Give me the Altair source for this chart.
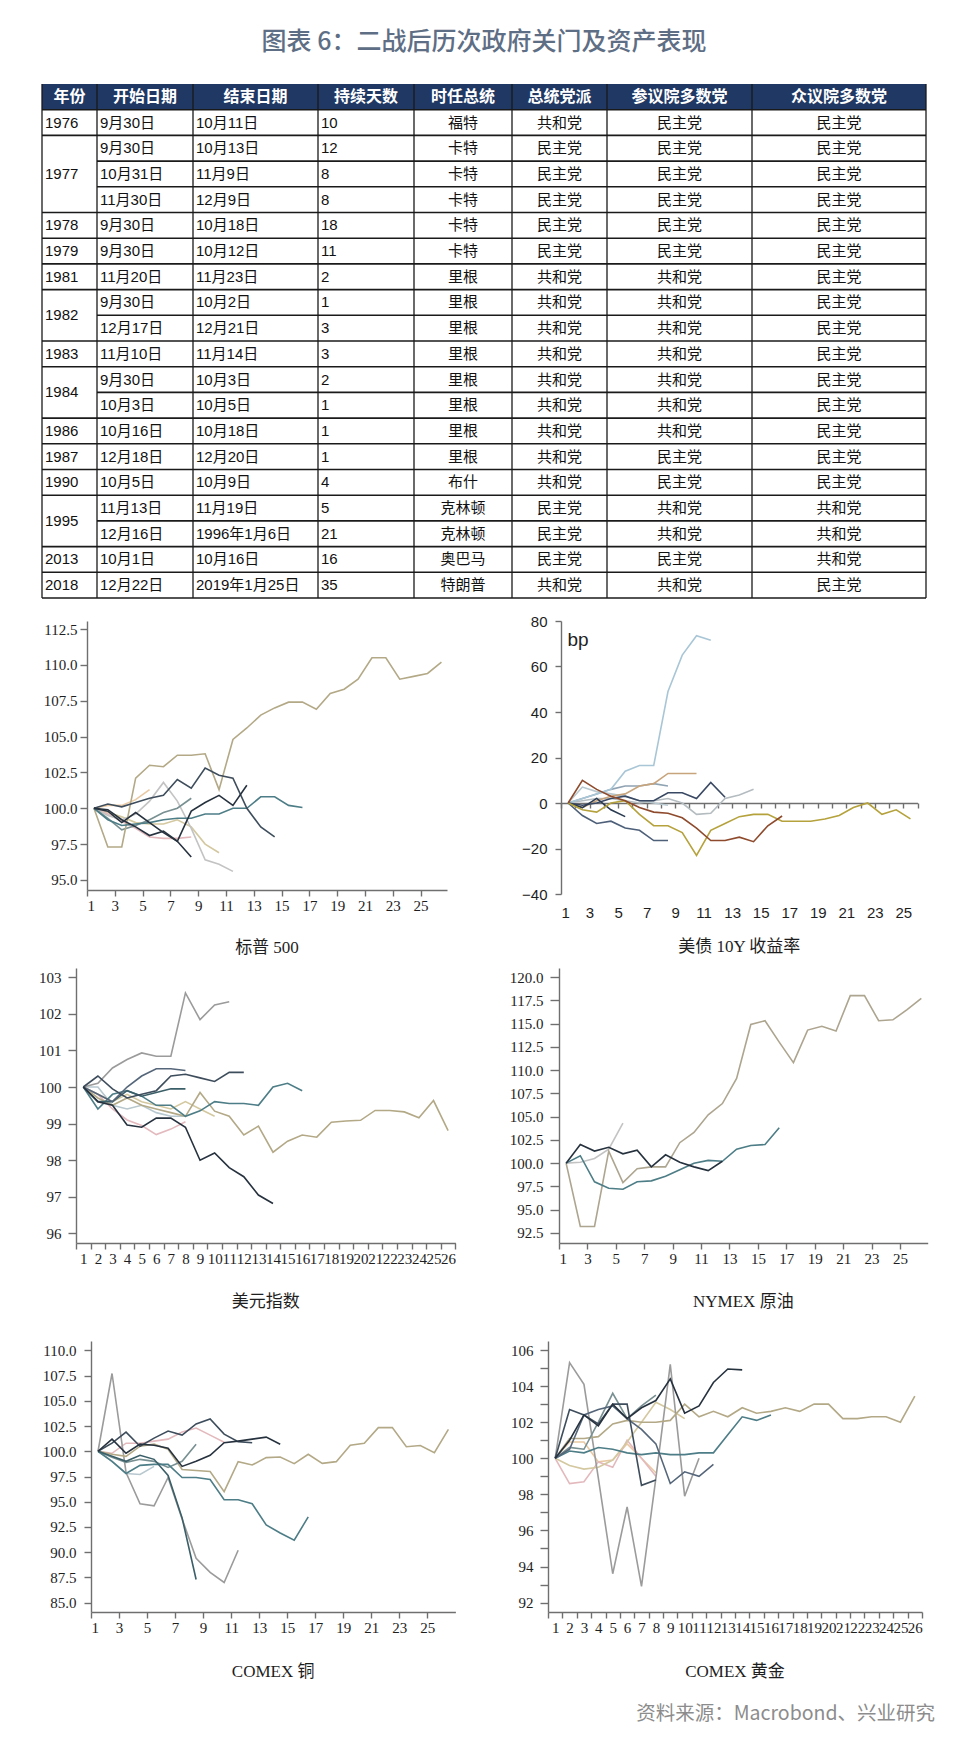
import altair as alt
import pandas as pd

# ---------------- table data ----------------
header = ["年份", "开始日期", "结束日期", "持续天数", "时任总统", "总统党派", "参议院多数党", "众议院多数党"]
years = ["1976", "1977", "1977", "1977", "1978", "1979", "1981", "1982", "1982", "1983",
         "1984", "1984", "1986", "1987", "1990", "1995", "1995", "2013", "2018"]
start_dates = ["9月30日", "9月30日", "10月31日", "11月30日", "9月30日", "9月30日", "11月20日", "9月30日",
               "12月17日", "11月10日", "9月30日", "10月3日", "10月16日", "12月18日", "10月5日", "11月13日",
               "12月16日", "10月1日", "12月22日"]
end_dates = ["10月11日", "10月13日", "11月9日", "12月9日", "10月18日", "10月12日", "11月23日", "10月2日",
             "12月21日", "11月14日", "10月3日", "10月5日", "10月18日", "12月20日", "10月9日", "11月19日",
             "1996年1月6日", "10月16日", "2019年1月25日"]
durations = ["10", "12", "8", "8", "18", "11", "2", "1", "3", "3", "2", "1", "1", "1", "4", "5", "21", "16", "35"]
presidents = ["福特", "卡特", "卡特", "卡特", "卡特", "卡特", "里根", "里根", "里根", "里根", "里根", "里根",
              "里根", "里根", "布什", "克林顿", "克林顿", "奥巴马", "特朗普"]
pres_party = ["共和党", "民主党", "民主党", "民主党", "民主党", "民主党", "共和党", "共和党", "共和党", "共和党",
              "共和党", "共和党", "共和党", "共和党", "共和党", "民主党", "民主党", "民主党", "共和党"]
senate = ["民主党"] * 6 + ["共和党"] * 7 + ["民主党", "民主党", "共和党", "共和党", "民主党", "共和党"]
house = ["民主党"] * 15 + ["共和党", "共和党", "共和党", "民主党"]

# ---------------- series data (index = 100 / bp change, day 1..N) ----------------
spx_1 = [100, 97.3, 97.3, 102.1, 103.0, 102.9, 103.7, 103.7, 103.8, 101.3, 104.8, 105.6, 106.5, 107.0, 107.4,
         107.4, 106.9, 108.0, 108.3, 109.0, 110.5, 110.5, 109.0, 109.2, 109.4, 110.2]
spx_2 = [100, 100.3, 100.1, 100.4, 100.7, 100.9, 102.0, 101.4, 102.8, 102.3, 102.1, 100.0, 98.7, 98.0]
spx_3 = [100, 99.9, 99.2, 98.7, 98.1, 98.4, 97.7, 99.8, 100.4, 100.9, 100.2, 101.6]
spx_4 = [100, 99.2, 98.8, 98.9, 99.0, 99.2, 99.3, 99.3, 99.6, 99.6, 100.0, 100.0, 100.8, 100.8, 100.2, 100.05]
spx_5 = [100, 99.8, 99.0, 99.7, 99.0, 98.3, 97.7, 96.6]
spx_6 = [100, 99.5, 99.2, 99.6, 100.5, 101.8, 100.5, 98.6, 96.4, 96.1, 95.6]
spx_7 = [100, 99.7, 99.4, 99.0, 98.9, 98.9, 99.2, 98.7, 97.5, 96.9]
spx_8 = [100, 100.2, 100.2, 100.6, 101.3]
spx_9 = [100, 99.3, 98.5, 98.8, 99.2, 99.7, 100.0, 100.7]
spx_10 = [100, 99.6, 99.1, 98.6, 98.0, 97.9, 97.9, 98.0]

ust_1 = [0, 2, 4, 6, 14, 16.5, 16.5, 49, 65, 73.5, 71.5]
ust_2 = [0, -2, 1, 3, 4, 7.5, 8.5, 13, 13, 13]
ust_3 = [0, -1, 0, 2, 3, 1, 1, 4.5, 4.5, 2, 9, 2.5]
ust_4 = [0, 1, 2, 2, 1, 0, 1, 2, 0, -5, -4.5, 2, 3.5, 6]
ust_5 = [0, -5.5, -9, -8, -11, -12, -16.5, -16.5]
ust_6 = [0, 10, 6, 3, 1, -2, -4, -4.5, -6.5, -11, -16.5, -16.5, -15, -17, -10, -5.7]
ust_7 = [0, -3, -4, 0, 1, -5, -10, -10, -13, -23, -12, -9, -6, -5, -5, -8, -8, -8, -7, -5.5, -2, 0, -5, -3, -7]
ust_8 = [0, 2, 4, 6, 7.5, 7.5, 8.5, 7.5]
ust_9 = [0, -2, 2, -3, -6]
ust_10 = [0, 7, 5, 4, 3, 1, 0, -1]

dxy_1 = [100, 100.1, 100.52, 100.75, 100.93, 100.84, 100.84, 102.57, 101.84, 102.24, 102.33]
dxy_2 = [100, 99.7, 99.5, 99.7, 99.5, 99.4, 99.3, 99.2, 99.85, 99.34, 99.2, 98.69, 98.93, 98.22, 98.52, 98.69,
         98.63, 99.04, 99.07, 99.09, 99.36, 99.36, 99.32, 99.16, 99.63, 98.81]
dxy_3 = [100, 99.6, 99.5, 98.96, 98.9, 99.15, 99.15, 98.9, 98.0, 98.2, 97.8, 97.55, 97.05, 96.82]
dxy_4 = [100, 100.3, 99.95, 99.7, 99.8, 99.9, 100.3, 100.35, 100.25, 100.15, 100.4, 100.4]
dxy_5 = [100, 99.8, 99.6, 100.0, 100.3, 100.5, 100.5, 100.45]
dxy_6 = [100, 99.4, 99.8, 99.9, 99.75, 99.5, 99.5, 99.2, 99.35, 99.6, 99.55, 99.55, 99.5, 100.0, 100.1, 99.9]
dxy_7 = [100, 99.6, 99.6, 99.9, 99.75, 99.85, 99.95, 99.95]
dxy_8 = [100, 99.8, 99.4, 99.1, 98.95, 98.7, 98.85, 99.05]
dxy_9 = [100, 99.8, 99.6, 99.8, 99.6, 99.5, 99.4, 99.6, 99.4, 99.2]
dxy_10 = [100, 100.0, 99.5, 99.4, 99.5, 99.3, 99.2, 99.2]

oil_1 = [100, 93.2, 93.2, 101.3, 97.9, 99.4, 99.6, 99.6, 102.2, 103.3, 105.2, 106.4, 109.1, 114.9, 115.3, 113.0,
         110.8, 114.3, 114.7, 114.2, 118.0, 118.0, 115.3, 115.4, 116.5, 117.7]
oil_2 = [100, 102.0, 101.3, 101.7, 101.0, 101.4, 99.6, 100.9, 100.1, 99.6, 99.2, 100.2]
oil_3 = [100, 100.8, 98.0, 97.3, 97.2, 98.0, 98.1, 98.6, 99.3, 100.0, 100.3, 100.2, 101.5, 101.9, 102.0, 103.8]
oil_4 = [100, 100.1, 100.5, 101.5, 104.3]

cu_1 = [100, 99.7, 99.5, 100.5, 100.7, 100.2, 98.2, 98.1, 98.0, 96.0, 98.97, 98.64, 99.37, 99.43, 98.77, 99.7,
        98.8, 98.97, 100.59, 100.8, 102.34, 102.34, 100.45, 100.57, 99.86, 102.17]
cu_2 = [100, 107.7, 97.9, 94.8, 94.6, 97.4, 93.3, 89.4, 88.0, 87.0, 90.2]
cu_3 = [100, 99.5, 99.0, 99.6, 99.2, 97.6, 93.4, 87.3]
cu_4 = [100, 99.0, 97.8, 98.6, 98.7, 98.7, 97.4, 97.4, 97.2, 95.2, 95.2, 94.8, 92.7, 91.9, 91.2, 93.5]
cu_5 = [100, 101.2, 99.8, 100.7, 100.6, 100.3, 98.5, 99.0, 99.6, 100.85, 101.0, 101.2, 101.4, 100.7]
cu_6 = [100, 100.8, 101.9, 100.5, 101.3, 102.0, 101.6, 102.7, 103.2, 101.7, 100.95, 100.85]
cu_7 = [100, 99.8, 100.8, 100.8, 101.0, 101.2, 101.9, 102.3, 101.6, 100.9]
cu_8 = [100, 99.4, 98.9, 99.2, 99.0, 98.4, 99.0, 100.7]
cu_9 = [100, 99.0, 97.8, 97.7, 98.5]

au_1 = [100, 105.3, 104.1, 98.9, 93.6, 97.3, 92.9, 98.9, 105.2, 97.9, 100.0]
au_2 = [100, 101.1, 101.1, 101.2, 101.9, 102.1, 102.0, 102.0, 102.1, 103.0, 102.3, 102.6, 102.3, 102.8, 102.5,
        102.6, 102.8, 102.6, 103.0, 103.0, 102.2, 102.2, 102.3, 102.3, 102.0, 103.45]
au_3 = [100, 101.0, 102.4, 101.8, 103.0, 102.2, 102.8, 103.2, 104.4, 102.5, 102.9, 104.2, 104.95, 104.9]
au_4 = [100, 102.7, 102.4, 101.9, 103.0, 103.0, 98.5, 98.8]
au_5 = [100, 100.5, 102.4, 102.7, 102.9, 102.2, 101.6, 100.8, 98.6, 99.25, 99.0, 99.66]
au_6 = [100, 100.4, 100.3, 100.6, 100.5, 100.3, 100.2, 100.3, 100.2, 100.2, 100.3, 100.3, 101.3, 102.3, 102.1, 102.4]
au_7 = [100, 100.6, 100.5, 102.0, 103.6, 102.2, 102.9, 103.5]
au_8 = [100, 98.6, 98.7, 99.8, 99.5, 101.0, 100.0, 99.0]
au_9 = [100, 99.6, 99.4, 99.5, 99.9, 100.9, 102.0, 103.1, 102.7, 102.2]
au_10 = [100, 100.9, 100.9, 99.8, 99.9, 100.8, 100.0, 99.2]

# ---------------- styles ----------------
NAVY_D = "#27323f"
SLATE = "#3e4d5c"
SLATE2 = "#55667a"
TEAL = "#4d7d86"
TEAL_D = "#3b5f68"
KHAKI = "#b3a987"
KHAKI_L = "#d3c89f"
GRAY = "#9b9b9b"
GRAY_L = "#c3c3c3"
PINK = "#e3b9bd"
PEACH = "#e9c9a3"
BLUEGRAY_L = "#b7c8cf"
GRAYTEAL = "#789092"

AX = "#6f6f6f"
FONT_SERIF = "Liberation Serif, Noto Sans CJK SC"
FONT_CJK = "Noto Sans CJK SC"

col_widths = [55, 96, 125, 96, 98, 95, 145, 174]
TABLE_H = 514


def build_df(series):
    rows = []
    for name, vals, color in series:
        for i, v in enumerate(vals):
            rows.append({"series": name, "day": i + 1, "value": v, "color": color})
    return pd.DataFrame(rows)


# ---------------- table ----------------
edges = [0]
for w in col_widths:
    edges.append(edges[-1] + w)
W_T = edges[-1]
n = len(years)
NROW = n + 1

xs = alt.Scale(domain=[0, W_T], nice=False, zero=False)
ys = alt.Scale(domain=[0, NROW], nice=False, zero=False, reverse=True)

hdr_rect = pd.DataFrame({"x0": [0], "x1": [W_T], "y0": [0], "y1": [1]})
hdr_text = pd.DataFrame({"x": [(edges[j] + edges[j + 1]) / 2 for j in range(8)], "y": [0.5] * 8, "t": header})

cols_data = [start_dates, end_dates, durations, presidents, pres_party, senate, house]
left_rows, center_rows = [], []
for r in range(n):
    yv = r + 1.5
    for j, arr in enumerate(cols_data, start=1):
        if j <= 3:
            left_rows.append({"x": edges[j], "y": yv, "t": arr[r]})
        else:
            center_rows.append({"x": (edges[j] + edges[j + 1]) / 2, "y": yv, "t": arr[r]})
groups = []
r = 0
while r < n:
    s = r
    while r + 1 < n and years[r + 1] == years[s]:
        r += 1
    groups.append((s, r))
    r += 1
for s, e in groups:
    left_rows.append({"x": 0, "y": (s + e) / 2 + 1.5, "t": years[s]})

hrules = []
for b in range(1, NROW + 1):
    x0 = 0
    if 2 <= b <= n and years[b - 1] == years[b - 2]:
        x0 = edges[1]
    hrules.append({"y": b, "x0": x0, "x1": W_T})
hrules = pd.DataFrame(hrules)
vrules = pd.DataFrame({"x": edges, "y0": [0] * len(edges), "y1": [NROW] * len(edges)})

t_rect = alt.Chart(hdr_rect).mark_rect(color="#1f3864").encode(
    x=alt.X("x0:Q", scale=xs, axis=None), x2="x1",
    y=alt.Y("y0:Q", scale=ys, axis=None), y2="y1")
t_h = alt.Chart(hrules).mark_rule(color="#1a1a1a", strokeWidth=1.6).encode(
    x=alt.X("x0:Q", scale=xs, axis=None), x2="x1", y=alt.Y("y:Q", scale=ys, axis=None))
t_v = alt.Chart(vrules).mark_rule(color="#1a1a1a", strokeWidth=1.3).encode(
    x=alt.X("x:Q", scale=xs, axis=None), y=alt.Y("y0:Q", scale=ys, axis=None), y2="y1")
t_ht = alt.Chart(hdr_text).mark_text(color="white", font=FONT_CJK, fontSize=16, fontWeight="bold",
                                     baseline="middle", align="center").encode(
    x=alt.X("x:Q", scale=xs, axis=None), y=alt.Y("y:Q", scale=ys, axis=None), text="t:N")
t_l = alt.Chart(pd.DataFrame(left_rows)).mark_text(color="#111", font="Liberation Sans, " + FONT_CJK, fontSize=15,
                                                   baseline="middle", align="left", dx=3).encode(
    x=alt.X("x:Q", scale=xs, axis=None), y=alt.Y("y:Q", scale=ys, axis=None), text="t:N")
t_c = alt.Chart(pd.DataFrame(center_rows)).mark_text(color="#111", font=FONT_CJK, fontSize=15,
                                                     baseline="middle", align="center").encode(
    x=alt.X("x:Q", scale=xs, axis=None), y=alt.Y("y:Q", scale=ys, axis=None), text="t:N")

table = alt.layer(t_rect, t_h, t_v, t_ht, t_l, t_c).properties(
    width=W_T, height=TABLE_H,
    title=alt.TitleParams("图表 6：二战后历次政府关门及资产表现", font=FONT_CJK, fontSize=25, fontWeight=500,
                          color="#5e6e84", anchor="middle", offset=28))


# ---------------- line panels ----------------
def panel(series, xmode, ydom, yvals, yfmt, w, h, title, toff, xdom=None, xvals=None,
          ytick=7, ypad=3, xtick=6, xpad=2, font="Liberation Serif", ylabel_expr=None,
          xlabel_expr=None, xoffset=0, ytitle=None):
    df = build_df(series)
    common = dict(grid=False, domainColor=AX, domainWidth=1.4, tickColor=AX, tickWidth=1.4,
                  labelFont=font, labelFontSize=15, labelColor="#1e1e1e")
    yax = dict(common, values=yvals, format=yfmt, tickSize=ytick, labelPadding=ypad)
    if ylabel_expr:
        yax["labelExpr"] = ylabel_expr
    if ytitle:
        yax.update(title=ytitle, titleAngle=0, titleX=6, titleY=18, titleAlign="left", titleBaseline="middle",
                   titleFont=font, titleFontSize=19, titleFontWeight="normal", titleColor="#222")
    else:
        yax["title"] = None
    y = alt.Y("value:Q", scale=alt.Scale(domain=ydom, nice=False, zero=False), axis=alt.Axis(**yax))
    base = alt.Chart(df)
    if xmode == "band":
        x = alt.X("day:O", scale=alt.Scale(type="band", domain=list(range(1, 27)), paddingInner=0, paddingOuter=0),
                  bandPosition=0.5,
                  axis=alt.Axis(**common, tickBand="extent", labelAngle=0, labelOverlap=False,
                                tickSize=xtick, labelPadding=xpad, title=None))
    else:
        xax = dict(common, values=xvals, format="d", tickSize=xtick, labelPadding=xpad, title=None,
                   labelOverlap=False)
        if xoffset:
            xax["offset"] = xoffset
        if xlabel_expr:
            xax["labelExpr"] = xlabel_expr
        base = base.transform_calculate(pos="datum.day + 0.5")
        x = alt.X("pos:Q", scale=alt.Scale(domain=xdom, nice=False, zero=False), axis=alt.Axis(**xax))
    return base.mark_line(strokeWidth=1.6, clip=True).encode(
        x=x, y=y, color=alt.Color("color:N", scale=None), detail="series:N"
    ).properties(width=w, height=h,
                 title=alt.TitleParams(title, orient="bottom", anchor="middle", offset=toff, font=FONT_SERIF,
                                       fontSize=17, fontWeight="normal", color="#1e1e1e"))


c1 = panel([("s7", spx_7, KHAKI_L), ("s8", spx_8, PEACH), ("s10", spx_10, PINK), ("s6", spx_6, GRAY_L),
            ("s9", spx_9, GRAYTEAL), ("s1", spx_1, KHAKI), ("s4", spx_4, TEAL), ("s2", spx_2, SLATE),
            ("s5", spx_5, NAVY_D), ("s3", spx_3, NAVY_D)],
           "q", [94.3, 113.06], [95, 97.5, 100, 102.5, 105, 107.5, 110, 112.5], ".1f", 360, 269, "标普 500", 27,
           xdom=[1, 26.9], xvals=list(range(1, 26, 2)), ytick=7, ypad=3)

c2 = panel([("u10", ust_10, BLUEGRAY_L), ("u8", ust_8, "#8fa3b3"), ("u4", ust_4, "#b4bcc0"),
            ("u2", ust_2, "#c7a47c"), ("u1", ust_1, "#a9c6d6"), ("u3", ust_3, "#3a4963"),
            ("u5", ust_5, "#4e6079"), ("u9", ust_9, "#2a3a50"), ("u7", ust_7, "#b5a23c"),
            ("u6", ust_6, "#8e4a2c")],
           "q", [-40, 80], [-40, -20, 0, 20, 40, 60, 80], "d", 356.6, 273, "美债 10Y 收益率", 19,
           xdom=[1, 26], xvals=list(range(1, 27)), ytick=6, ypad=8, xtick=5, xpad=97,
           font="Liberation Sans", xlabel_expr="datum.value % 2 == 1 && datum.value < 26 ? datum.label : ''",
           xoffset=-91, ytitle="bp")

c3 = panel([("d10", dxy_10, BLUEGRAY_L), ("d9", dxy_9, KHAKI_L), ("d8", dxy_8, PINK), ("d1", dxy_1, GRAY),
            ("d2", dxy_2, KHAKI), ("d6", dxy_6, TEAL), ("d7", dxy_7, TEAL_D), ("d5", dxy_5, SLATE2),
            ("d4", dxy_4, SLATE), ("d3", dxy_3, NAVY_D)],
           "band", [95.74, 103.25], [96, 97, 98, 99, 100, 101, 102, 103], "d", 379.4, 275, "美元指数", 28,
           ytick=8, ypad=7)

c4 = panel([("o4", oil_4, GRAY_L), ("o1", oil_1, "#ada58f"), ("o3", oil_3, TEAL), ("o2", oil_2, NAVY_D)],
           "q", [91.42, 120.97], [92.5, 95, 97.5, 100, 102.5, 105, 107.5, 110, 112.5, 115, 117.5, 120], ".1f",
           368.7, 275, "NYMEX 原油", 28, xdom=[1, 26.95], xvals=list(range(1, 26, 2)), ytick=9, ypad=7)

c5 = panel([("c9", cu_9, BLUEGRAY_L), ("c7", cu_7, PINK), ("c2", cu_2, GRAY), ("c1", cu_1, KHAKI),
            ("c8", cu_8, GRAYTEAL), ("c4", cu_4, TEAL), ("c3", cu_3, TEAL_D), ("c6", cu_6, SLATE),
            ("c5", cu_5, NAVY_D)],
           "q", [84.08, 110.92], [85, 87.5, 90, 92.5, 95, 97.5, 100, 102.5, 105, 107.5, 110], ".1f",
           364.4, 271, "COMEX 铜", 29, xdom=[1, 27], xvals=list(range(1, 26, 2)), ytick=7, ypad=8)

c6 = panel([("a10", au_10, PEACH), ("a8", au_8, PINK), ("a9", au_9, KHAKI_L), ("a1", au_1, GRAY),
            ("a2", au_2, KHAKI), ("a6", au_6, TEAL), ("a7", au_7, GRAYTEAL), ("a5", au_5, SLATE2),
            ("a4", au_4, SLATE), ("a3", au_3, NAVY_D)],
           "band", [91.48, 106.5], list(range(92, 107)), "d", 374, 271, "COMEX 黄金", 29,
           ytick=8, ypad=7, ylabel_expr="datum.value % 2 == 0 ? datum.label : ''")


def spacer(w, h):
    return alt.Chart(pd.DataFrame({"v": [0]})).mark_point(opacity=0).encode(
        x=alt.value(0), y=alt.value(0)).properties(width=w, height=h)


row1 = alt.hconcat(spacer(44.3, 273), c1, spacer(113.4, 273), c2, spacing=0, bounds="flush")
row2 = alt.hconcat(spacer(33.3, 275), c3, spacer(102.3, 275), c4, spacing=0, bounds="flush")
row3 = alt.hconcat(spacer(48.3, 271), c5, spacer(91.6, 271), c6, spacing=0, bounds="flush")

# nested concat rows count as zero height in a flush layout: the gaps below carry the row heights
source = spacer(893, 271 + 88).properties(
    title=alt.TitleParams("资料来源：Macrobond、兴业研究", orient="bottom", anchor="end", offset=5,
                          font=FONT_CJK, fontSize=19.5, fontWeight="normal", color="#8c8c8c"))

chart = alt.vconcat(table, spacer(1, 23), row1, spacer(1, 273 + 74), row2, spacer(1, 275 + 98), row3, source,
                    spacing=0, bounds="flush").properties(
    padding={"left": 30, "top": 22, "right": 5, "bottom": 2}
).configure_view(stroke=None)

chart.save("out.html", embed_options={"renderer": "svg", "actions": False})
